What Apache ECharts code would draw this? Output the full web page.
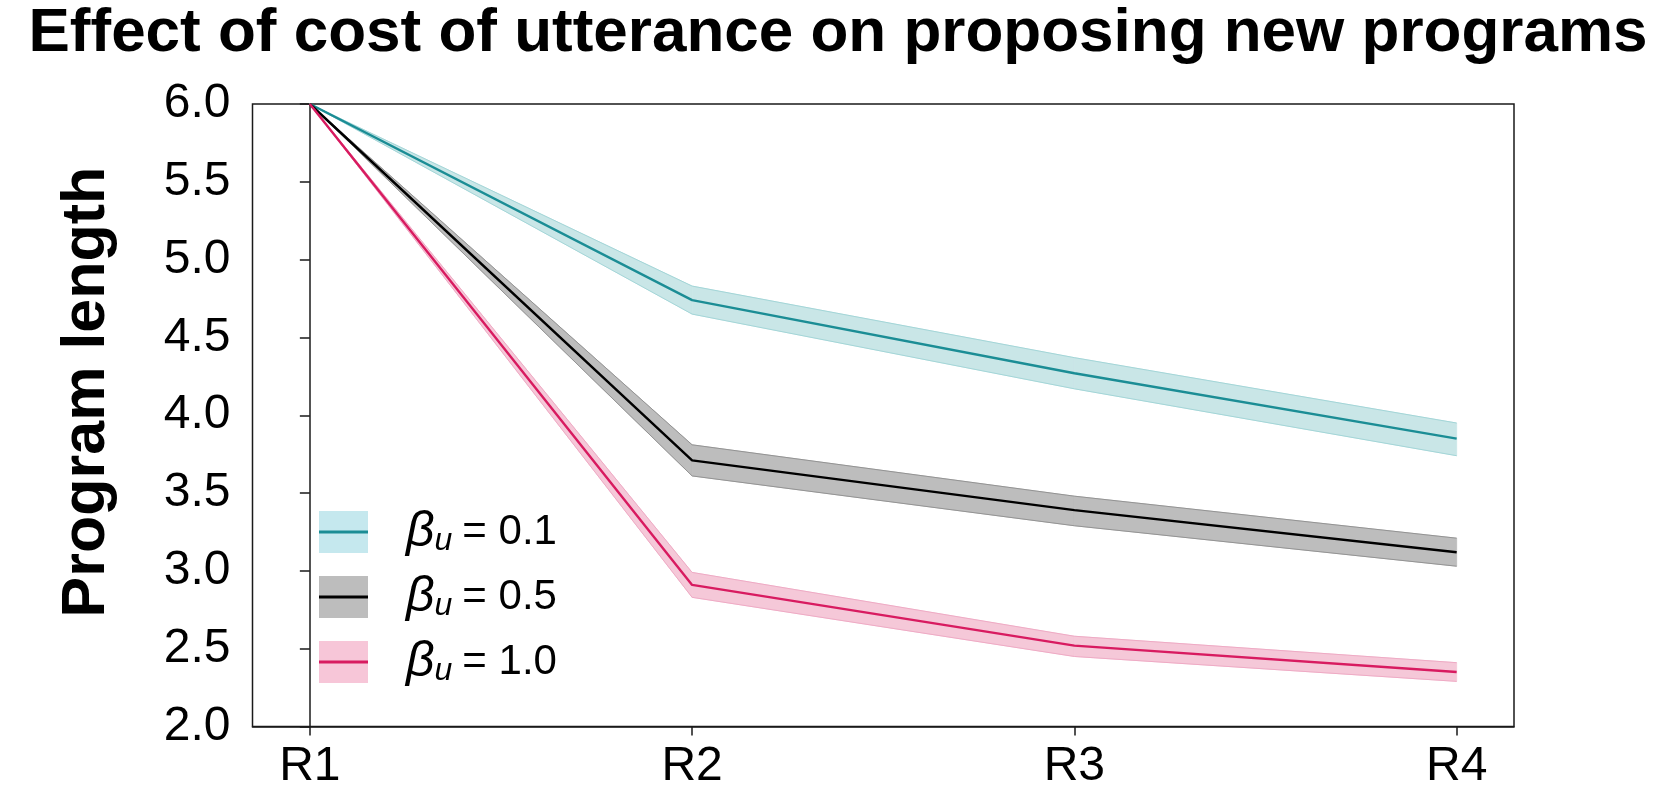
<!DOCTYPE html>
<html>
<head>
<meta charset="utf-8">
<script src="https://cdn.jsdelivr.net/npm/echarts@6/dist/echarts.min.js"></script>
<style>
html,body{margin:0;padding:0;background:#fff;}
#chart{width:1676px;height:786px;}
</style>
</head>
<body>
<div id="chart"></div>
<script>
const categories = ['R1', 'R2', 'R3', 'R4'];
const yTicks = [2.0, 2.5, 3.0, 3.5, 4.0, 4.5, 5.0, 5.5, 6.0];
const legendLabels = ['0.1', '0.5', '1.0'];

const mean01 = [6.0, 4.74, 4.27, 3.85];
const lo01   = [6.0, 4.65, 4.17, 3.74];
const hi01   = [6.0, 4.83, 4.37, 3.95];

const mean05 = [6.0, 3.71, 3.39, 3.12];
const lo05   = [6.0, 3.61, 3.29, 3.03];
const hi05   = [6.0, 3.81, 3.48, 3.21];

const mean10 = [6.0, 2.91, 2.52, 2.35];
const lo10   = [6.0, 2.83, 2.45, 2.29];
const hi10   = [6.0, 2.99, 2.58, 2.41];

const FONT = '"Liberation Sans", Arial, sans-serif';

const groups = [
  {key: 'b01', label: legendLabels[0], mean: mean01, lo: lo01, hi: hi01,
   line: '#1b8d95', fill: '#c9e6e7', edge: '#a3d5d7', legFill: '#c5e8ee'},
  {key: 'b05', label: legendLabels[1], mean: mean05, lo: lo05, hi: hi05,
   line: '#000000', fill: '#bdbdbd', edge: '#939393', legFill: '#bdbdbd'},
  {key: 'b10', label: legendLabels[2], mean: mean10, lo: lo10, hi: hi10,
   line: '#d81b60', fill: '#f5c8d8', edge: '#eeaac4', legFill: '#f7c6d8'}
];

function legendIcon(fill, stroke) {
  const svg = '<svg xmlns="http://www.w3.org/2000/svg" width="49" height="42">' +
    '<rect width="49" height="42" fill="' + fill + '"/>' +
    '<rect x="0" y="19.5" width="49" height="3" fill="' + stroke + '"/></svg>';
  return 'image://data:image/svg+xml;charset=utf-8,' + encodeURIComponent(svg);
}

function bandRender(fill) {
  return function (params, api) {
    const p0l = api.coord([api.value(0), api.value(1)]);
    const p0h = api.coord([api.value(0), api.value(2)]);
    const p1l = api.coord([api.value(3), api.value(4)]);
    const p1h = api.coord([api.value(3), api.value(5)]);
    return {
      type: 'polygon',
      shape: {points: [p0l, p1l, p1h, p0h]},
      style: {fill: fill, stroke: fill, lineWidth: 0.8}
    };
  };
}

const series = [];
groups.forEach(g => {
  const segs = [];
  for (let i = 0; i < categories.length - 1; i++) {
    segs.push([i, g.lo[i], g.hi[i], i + 1, g.lo[i + 1], g.hi[i + 1]]);
  }
  series.push({
    name: g.key + '_band', type: 'custom', silent: true,
    renderItem: bandRender(g.fill),
    data: segs,
    encode: {x: [0, 3], y: [1, 2, 4, 5]},
    z: 1
  });
  series.push({
    name: g.key + '_lo', type: 'line', symbol: 'none', silent: true,
    data: g.lo.map((v, i) => [i, v]),
    lineStyle: {color: g.edge, width: 1}, z: 2
  });
  series.push({
    name: g.key + '_hi', type: 'line', symbol: 'none', silent: true,
    data: g.hi.map((v, i) => [i, v]),
    lineStyle: {color: g.edge, width: 1}, z: 2
  });
});
groups.forEach(g => {
  series.push({
    name: g.key, type: 'line', symbol: 'none',
    data: g.mean.map((v, i) => [i, v]),
    lineStyle: {color: g.line, width: 2.4},
    itemStyle: {color: g.line}, z: 3
  });
});

const chart = echarts.init(document.getElementById('chart'), null, {renderer: 'canvas'});
chart.setOption({
  animation: false,
  backgroundColor: '#fff',
  title: {
    text: 'Effect of cost of utterance on proposing new programs',
    left: 'center', top: -2,
    textStyle: {fontFamily: FONT, fontWeight: 'bold', fontSize: 62, color: '#000'}
  },
  grid: {
    left: 252.5, right: 162, top: 104, bottom: 59.5,
    outerBoundsMode: 'none', containLabel: false,
    show: true, borderColor: '#1a1a1a', borderWidth: 1.5, backgroundColor: 'transparent'
  },
  xAxis: {
    type: 'value', min: -0.15, max: 3.15,
    splitLine: {show: false},
    axisLine: {show: true, lineStyle: {color: '#1a1a1a', width: 1.5}},
    axisTick: {show: true, customValues: [0, 1, 2, 3], length: 9, lineStyle: {color: '#1a1a1a', width: 1.5}},
    axisLabel: {
      customValues: [0, 1, 2, 3], margin: 16,
      formatter: v => categories[Math.round(v)],
      fontFamily: FONT, fontSize: 48, color: '#000'
    }
  },
  yAxis: {
    type: 'value', min: 2, max: 6, interval: 0.5,
    splitLine: {show: false},
    axisLine: {show: true, lineStyle: {color: '#1a1a1a', width: 1.5}},
    axisTick: {show: true, length: 10, lineStyle: {color: '#1a1a1a', width: 1.5}},
    axisLabel: {
      margin: 22,
      formatter: v => yTicks.includes(v) ? v.toFixed(1) : '',
      fontFamily: FONT, fontSize: 48, color: '#000'
    }
  },
  legend: {
    orient: 'vertical', left: 319, top: 507, padding: 0,
    itemWidth: 49, itemHeight: 42, itemGap: 15,
    selectedMode: false,
    data: groups.map(g => ({name: g.key, icon: legendIcon(g.legFill, g.line)})),
    formatter: name => {
      const g = groups.find(x => x.key === name);
      return '{b|β}{s|u}{n|= ' + g.label + '}';
    },
    textStyle: {
      fontFamily: FONT, color: '#000', padding: [0, 0, 0, 33],
      rich: {
        b: {fontFamily: FONT, fontStyle: 'italic', fontSize: 50, color: '#000', lineHeight: 42},
        s: {fontFamily: FONT, fontStyle: 'italic', fontSize: 32, color: '#000', lineHeight: 24, padding: [18, 10, 0, 0]},
        n: {fontFamily: FONT, fontSize: 42, color: '#000', lineHeight: 42}
      }
    }
  },
  graphic: [{
    type: 'text', x: 87, y: 392, rotation: Math.PI / 2,
    style: {
      text: 'Program length', fill: '#000',
      font: 'bold 61px "Liberation Sans", Arial, sans-serif',
      textAlign: 'center', textVerticalAlign: 'middle'
    }
  }],
  series: series
});
</script>
</body>
</html>
